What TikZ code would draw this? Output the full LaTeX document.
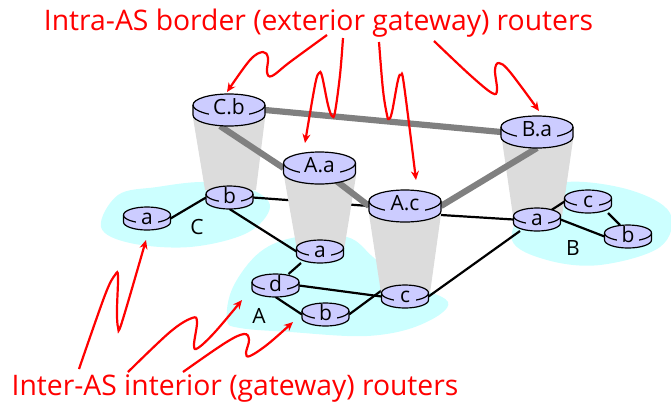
\documentclass[tikz,border=0pt]{standalone}
\usepackage{fontspec}
\setmainfont{Open Sans}
\usetikzlibrary{arrows.meta,backgrounds}
\definecolor{islandcol}{HTML}{CCFFFF}
\definecolor{routercol}{HTML}{CCCCFF}
\definecolor{conecol}{HTML}{DCDCDC}
\definecolor{trunkcol}{HTML}{808080}
\definecolor{notecol}{HTML}{FF0000}
\pgfdeclarelayer{islandlayer}
\pgfdeclarelayer{lowlayer}
\pgfdeclarelayer{conelayer}
\pgfdeclarelayer{highlayer}
\pgfsetlayers{islandlayer,lowlayer,conelayer,highlayer,main}
\tikzset{
  island/.style={fill=islandcol,draw=none},
  cone/.style={fill=conecol,draw=none},
  link/.style={draw=black,line width=2.2pt},
  trunk/.style={draw=trunkcol,line width=6.2pt},
  rbody/.style={fill=routercol,draw=black,line width=1.2pt},
  anchorbox/.style={inner sep=0pt,outer sep=0pt,draw=none,fill=none},
  rlabel/.style={fill=routercol,inner sep=0pt,outer sep=0pt,font=\fontsize{21}{21}\selectfont},
  aslabel/.style={font=\fontsize{21}{21}\selectfont,inner sep=0pt},
  note/.style={text=notecol,inner sep=0pt,font=\fontsize{28.3}{30}\selectfont},
  scribble/.style={draw=notecol,line width=2.2pt,-{Stealth[length=9pt,width=8pt]}},
}
% name, cx, top, rx, ry, h, gap width, label
\newcommand\cylrouter[8]{%
  \draw[rbody] (#2-#4,#3+#5) -- (#2-#4,#3+#5+#6)
     arc[start angle=180,end angle=360,x radius=#4pt,y radius=#5pt]
     -- (#2+#4,#3+#5)
     arc[start angle=0,end angle=180,x radius=#4pt,y radius=#5pt] -- cycle;
  \draw[rbody,fill=none] (#2-#4,#3+#5)
     arc[start angle=180,end angle=360,x radius=#4pt,y radius=#5pt];
  \node[anchorbox,minimum width=2*#4 pt,minimum height=2*#5 pt+#6 pt] (#1) at (#2,#3+#5+#6/2) {};
  \node[rlabel,minimum width=#7 pt,minimum height=2*#5 pt-2pt,text height=14pt,text depth=0pt] (#1-lbl) at (#2,#3+#5+2) {#8};
}
\newcommand\bigrouter[4]{\cylrouter{#1}{#2}{#3}{36}{11}{10}{40}{#4}}
\newcommand\smallrouter[4]{\cylrouter{#1}{#2}{#3}{23.5}{8}{7}{22}{#4}}
\begin{document}
\begin{tikzpicture}[x=1pt,y=-1pt]
\useasboundingbox (0,0) rectangle (671,405);

% routers
\bigrouter{Cb}{229}{94}{C.b}
\bigrouter{Aa}{319.5}{152}{A.a}
\bigrouter{Ac}{405}{190}{A.c}
\bigrouter{Ba}{537}{116}{B.a}
\smallrouter{ca}{147}{207}{a}
\smallrouter{cb}{229.5}{186}{b}
\smallrouter{aa}{320}{240}{a}
\smallrouter{ad}{275.5}{274}{d}
\smallrouter{ab}{325.5}{303}{b}
\smallrouter{ac}{405}{285}{c}
\smallrouter{ba}{537}{208}{a}
\smallrouter{bc}{588}{190}{c}
\smallrouter{bb}{628}{225}{b}

% AS labels
\node[aslabel] (lblC) at (197,227) {C};
\node[aslabel] (lblA) at (259,316) {A};
\node[aslabel] (lblB) at (573,248) {B};

\begin{pgfonlayer}{islandlayer}
  \fill[island] plot[smooth cycle,tension=0.6] coordinates {(101,227) (118,195) (157,187) (205,182) (250,189) (270,207) (247,233) (190,247) (130,243)};
  \fill[island] plot[smooth cycle,tension=0.6] coordinates {(227,320) (233,287) (260,252) (297,237) (347,237) (373,257) (400,280) (448,302) (420,325) (367,336) (290,332) (240,328)};
  \fill[island] plot[smooth cycle,tension=0.6] coordinates {(512,240) (530,200) (567,182) (630,190) (670,213) (660,247) (600,265) (547,260)};
\end{pgfonlayer}

\begin{pgfonlayer}{lowlayer}
  \draw[link] (ca.east) -- (cb.west);
  \draw[link] (cb.east) -- (Ac.west);
  \draw[link] (cb.south) -- (aa.west);
  \draw[link] ([xshift=-19pt]aa.south) -- ([xshift=13pt]ad.north);
  \draw[link] (ad.east) -- (ac.west);
  \draw[link] (ad.south) -- (ab.west);
  \draw[link] (ab.east) -- ([yshift=6pt]ac.west);
  \draw[link] (ac.east) -- ([xshift=-17pt]ba.south);
  \draw[link] ([yshift=-9pt]Ac.east) -- (ba.west);
\end{pgfonlayer}

\begin{pgfonlayer}{conelayer}
  \fill[cone] (193,118) -- (265,118) -- (256,190) -- (205,190) -- cycle;
  \fill[cone] (284,176) -- (356,176) -- (344,250) -- (297,250) -- cycle;
  \fill[cone] (369,214) -- (441,214) -- (430,293) -- (381,293) -- cycle;
  \fill[cone] (502,140) -- (573,140) -- (562,216) -- (513,216) -- cycle;
\end{pgfonlayer}

\begin{pgfonlayer}{highlayer}
  \draw[link] (ba.center) -- (bc.west);
  \draw[link] (ba.east) -- (bb.west);
  \draw[link] ([xshift=20pt]bc.south) -- ([xshift=-8pt]bb.north);
  \draw[trunk] (Cb.east) -- (Ba.west);
  \draw[trunk] ([xshift=-9pt]Cb.south) -- (Aa.west);
  \draw[trunk] (Aa.center) -- (Ac.west);
  \draw[trunk] (Ac.east) -- (Ba.south);
\end{pgfonlayer}

% captions
\node[note,anchor=base] (topnote) at (318.5,30) {Intra-AS border (exterior gateway) routers};
\node[note,anchor=base] (botnote) at (235,395) {Inter-AS interior (gateway) routers};

% arrows from the captions
\draw[scribble] plot[smooth,tension=0.6] coordinates {(327,35) (290,62) (272,76) (267,72) (268,58) (263,52) (250,60) (227,92)};
\draw[scribble] plot[smooth,tension=0.6] coordinates {(343,38) (340,75) (335,112) (332,116) (328,105) (322,76) (319,73) (315,85) (305,143)};
\draw[scribble] plot[smooth,tension=0.6] coordinates {(379,42) (383,90) (387,115) (389,119) (392,112) (398,80) (401,75) (404,85) (416,180)};
\draw[scribble] plot[smooth,tension=0.6] coordinates {(434,41) (470,75) (492,93) (497,90) (495,70) (499,63) (510,72) (539,111)};
\draw[scribble] plot[smooth,tension=0.6] coordinates {(79,369) (105,295) (115,275) (118,276) (117,310) (118,327) (122,322) (146,240)};
\draw[scribble] plot[smooth,tension=0.6] coordinates {(128,372) (170,332) (192,318) (197,322) (194,345) (198,348) (215,332) (242,300)};
\draw[scribble] plot[smooth,tension=0.6] coordinates {(183,372) (225,343) (244,334) (249,340) (246,353) (250,356) (268,344) (293,322)};
\end{tikzpicture}
\end{document}
